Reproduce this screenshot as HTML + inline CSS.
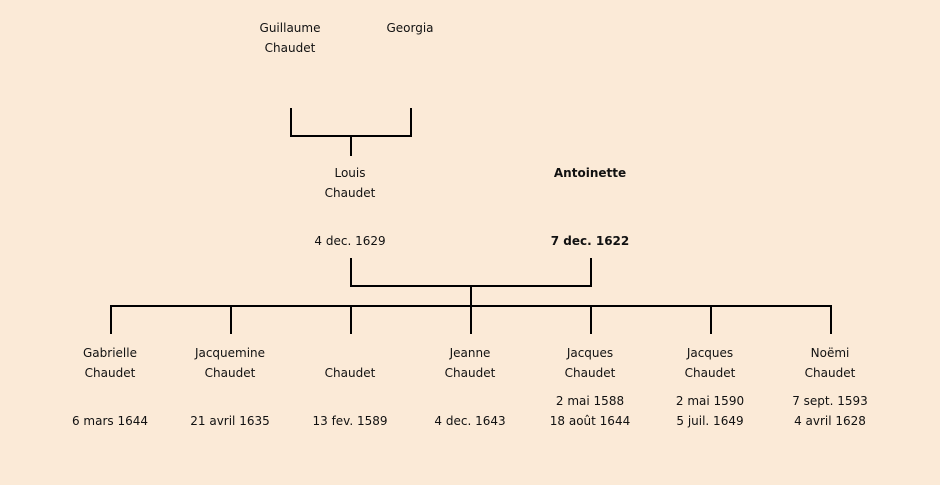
<!DOCTYPE html>
<html><head><meta charset="utf-8"><style>
body{margin:0;width:940px;height:485px;background:#fbead7;position:relative;overflow:hidden;font-family:"Comic Sans MS","DejaVu Sans","Liberation Sans",sans-serif;font-size:12px;color:#111}
.t{position:absolute;width:160px;text-align:center;line-height:20px;white-space:nowrap}
.b{font-weight:bold}
svg{position:absolute;left:0;top:0}
</style></head><body>
<svg width="940" height="485" stroke="#000" stroke-width="2" fill="none">
<path d="M291 108V136H411V108M351 136V156"/>
<path d="M351 258V286H591V258M471 286V306"/>
<path d="M111 334V306H831V334M231 306V334M351 306V334M471 306V334M591 306V334M711 306V334"/>
</svg>
<div class="t" style="left:210px;top:18px">Guillaume<br>Chaudet</div>
<div class="t" style="left:330px;top:18px">Georgia</div>
<div class="t" style="left:270px;top:163px">Louis<br>Chaudet</div>
<div class="t" style="left:270px;top:231px">4 dec. 1629</div>
<div class="t b" style="left:510px;top:163px">Antoinette</div>
<div class="t b" style="left:510px;top:231px">7 dec. 1622</div>

<div class="t" style="left:30px;top:343px">Gabrielle<br>Chaudet</div>
<div class="t" style="left:30px;top:411px">6 mars 1644</div>
<div class="t" style="left:150px;top:343px">Jacquemine<br>Chaudet</div>
<div class="t" style="left:150px;top:411px">21 avril 1635</div>
<div class="t" style="left:270px;top:363px">Chaudet</div>
<div class="t" style="left:270px;top:411px">13 fev. 1589</div>
<div class="t" style="left:390px;top:343px">Jeanne<br>Chaudet</div>
<div class="t" style="left:390px;top:411px">4 dec. 1643</div>
<div class="t" style="left:510px;top:343px">Jacques<br>Chaudet</div>
<div class="t" style="left:510px;top:391px">2 mai 1588<br>18 août 1644</div>
<div class="t" style="left:630px;top:343px">Jacques<br>Chaudet</div>
<div class="t" style="left:630px;top:391px">2 mai 1590<br>5 juil. 1649</div>
<div class="t" style="left:750px;top:343px">Noëmi<br>Chaudet</div>
<div class="t" style="left:750px;top:391px">7 sept. 1593<br>4 avril 1628</div>
</body></html>
